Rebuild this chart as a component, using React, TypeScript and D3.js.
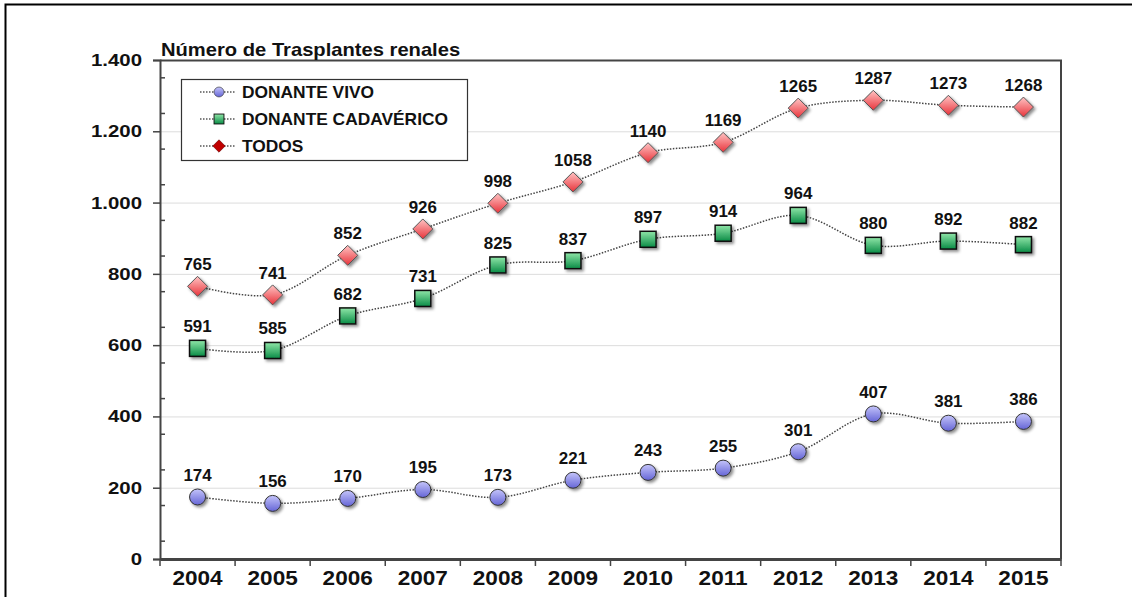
import React, { useEffect, useRef } from "react";
import * as d3 from "d3";

// data
const years = ["2004", "2005", "2006", "2007", "2008", "2009", "2010", "2011", "2012", "2013", "2014", "2015"];
const donanteVivo = [174, 156, 170, 195, 173, 221, 243, 255, 301, 407, 381, 386];
const donanteCadaverico = [591, 585, 682, 731, 825, 837, 897, 914, 964, 880, 892, 882];
const todos = [765, 741, 852, 926, 998, 1058, 1140, 1169, 1265, 1287, 1273, 1268];
const yTicks = [0, 200, 400, 600, 800, 1000, 1200, 1400];
const seriesNames = ["DONANTE VIVO", "DONANTE CADAVÉRICO", "TODOS"];

const FONT = "'Liberation Sans', Arial, sans-serif";

// bold text, a bit stretched wide like the original render
const txt = (parent: any, x: number, y: number, s: string, size: number, sx: number, anchor = "start") =>
	parent
		.append("text")
		.attr("transform", `translate(${x},${y}) scale(${sx},1)`)
		.attr("text-anchor", anchor)
		.attr("font-family", FONT)
		.attr("font-weight", "bold")
		.attr("font-size", size)
		.attr("fill", "#111")
		.text(s);

const App = () => {
	const ref = useRef<SVGSVGElement>(null);

	useEffect(() => {
		const svg = d3.select(ref.current);
		const W = 1132;
		const H = 597;
		const margin = { top: 60, right: 71, bottom: 38, left: 160 };
		const width = W - margin.left - margin.right;
		const height = H - margin.top - margin.bottom;

		const defs = svg.append("defs");
		const f = defs.append("filter").attr("id", "shadow").attr("x", "-50%").attr("y", "-50%").attr("width", "200%").attr("height", "200%");
		f.append("feDropShadow").attr("dx", 2).attr("dy", 2).attr("stdDeviation", 1.5).attr("flood-color", "#000").attr("flood-opacity", 0.45);

		const grad = (id: string, c1: string, c2: string) => {
			const g = defs.append("linearGradient").attr("id", id).attr("x1", 0).attr("y1", 0).attr("x2", 0).attr("y2", 1);
			g.append("stop").attr("offset", "0%").attr("stop-color", c1);
			g.append("stop").attr("offset", "100%").attr("stop-color", c2);
		};
		grad("gVivo", "#c4c4fa", "#6565d6");
		grad("gCad", "#8fe6a8", "#0a8c46");
		grad("gTod", "#ffc4c4", "#e8333a");

		// outer frame
		svg.append("path").attr("d", `M5.5,${H} V4.5 H${W}`).attr("fill", "none").attr("stroke", "#000").attr("stroke-width", 2);

		const x = d3.scaleBand().domain(years).range([0, width]);
		const y = d3.scaleLinear().domain([0, 1400]).range([height, 0]);

		const g = svg.append("g").attr("transform", `translate(${margin.left},${margin.top})`);

		// gridlines
		g.selectAll(".grid")
			.data(yTicks.slice(1))
			.enter()
			.append("line")
			.attr("x1", 0)
			.attr("x2", width)
			.attr("y1", (d) => y(d) + 0.5)
			.attr("y2", (d) => y(d) + 0.5)
			.attr("stroke", "#dcdcdc")
			.attr("stroke-width", 1);

		// plot border top/right
		g.append("path")
			.attr("d", `M0,0.5 H${width} V${height}`)
			.attr("fill", "none")
			.attr("stroke", "#444")
			.attr("stroke-width", 2);

		// y axis
		const yAxis = g.append("g").call(d3.axisLeft(y).tickValues(yTicks).tickSize(7).tickFormat(() => ""));
		yAxis.select(".domain").attr("stroke", "#444").attr("stroke-width", 2);
		yAxis.selectAll(".tick line").attr("stroke", "#444").attr("stroke-width", 1.5);
		yTicks.forEach((t) => {
			txt(g, -18, y(t) + 6, d3.format(",")(t).replace(/,/g, "."), 17, 1.2, "end");
		});
		// minor ticks
		g.append("g")
			.selectAll("line")
			.data(d3.range(50, 1400, 100))
			.enter()
			.append("line")
			.attr("x1", 0)
			.attr("x2", 5)
			.attr("y1", (d) => y(d))
			.attr("y2", (d) => y(d))
			.attr("stroke", "#444")
			.attr("stroke-width", 1.5);

		// x axis
		const xAxis = g.append("g").attr("transform", `translate(0,${height})`).call(d3.axisBottom(x).tickSize(0).tickFormat(() => ""));
		xAxis.select(".domain").attr("stroke", "#444").attr("stroke-width", 3);
		xAxis.selectAll(".sep")
			.data(d3.range(0, years.length + 1))
			.enter()
			.append("line")
			.attr("x1", (i) => i * x.bandwidth())
			.attr("x2", (i) => i * x.bandwidth())
			.attr("y1", 0)
			.attr("y2", 7)
			.attr("stroke", "#444")
			.attr("stroke-width", 1.5);
		years.forEach((yr) => {
			txt(g, (x(yr) as number) + x.bandwidth() / 2, height + 26, yr, 20, 1.13, "middle");
		});

		// title
		txt(svg, margin.left + 1, 56, "Número de Trasplantes renales", 18, 1.12);

		const cx = (i: number) => (x(years[i]) as number) + x.bandwidth() / 2;
		const line = d3
			.line<number>()
			.x((d, i) => cx(i))
			.y((d) => y(d))
			.curve(d3.curveCatmullRom.alpha(0.5));

		const drawMarker = (sel: any, kind: number) => {
			if (kind === 0) {
				sel.append("circle").attr("r", 8).attr("fill", "url(#gVivo)").attr("stroke", "#333").attr("stroke-width", 1);
			} else if (kind === 1) {
				sel.append("rect").attr("x", -8).attr("y", -8).attr("width", 16).attr("height", 16).attr("fill", "url(#gCad)").attr("stroke", "#111").attr("stroke-width", 1.5);
			} else {
				sel.append("path").attr("d", "M0,-10 L10,0 L0,10 L-10,0 Z").attr("fill", "url(#gTod)").attr("stroke", "#555").attr("stroke-width", 1);
			}
		};

		const allSeries = [donanteVivo, donanteCadaverico, todos];
		allSeries.forEach((data, k) => {
			g.append("path")
				.attr("d", line(data))
				.attr("fill", "none")
				.attr("stroke", "#444")
				.attr("stroke-width", 1.5)
				.attr("stroke-dasharray", "1.5,1.5");
			data.forEach((v, i) => {
				const m = g.append("g").attr("transform", `translate(${cx(i)},${y(v)})`).attr("filter", "url(#shadow)");
				drawMarker(m, k);
				txt(g, cx(i), y(v) - 16, String(v), 16, 1.06, "middle");
			});
		});

		// legend
		const lg = svg.append("g").attr("transform", "translate(181,79)");
		lg.append("rect").attr("x", 0.5).attr("y", 0.5).attr("width", 286).attr("height", 81).attr("fill", "#fff").attr("stroke", "#333").attr("stroke-width", 1.2);
		seriesNames.forEach((name, k) => {
			const ly = 13 + k * 27;
			lg.append("line").attr("x1", 19).attr("x2", 55).attr("y1", ly).attr("y2", ly).attr("stroke", "#555").attr("stroke-width", 1.5).attr("stroke-dasharray", "1.5,1.5");
			const m = lg.append("g").attr("transform", `translate(38,${ly}) scale(0.62)`);
			drawMarker(m, k);
			if (k === 2) m.select("path").attr("fill", "#c00000").attr("stroke", "#600");
			txt(lg, 61, ly + 6, name, 16, 1.085);
		});

		return () => {
			svg.selectAll("*").remove();
		};
	}, []);

	return <svg ref={ref} width={1132} height={597} style={{ position: "absolute", left: 0, top: 0 }}></svg>;
};

export default App;
